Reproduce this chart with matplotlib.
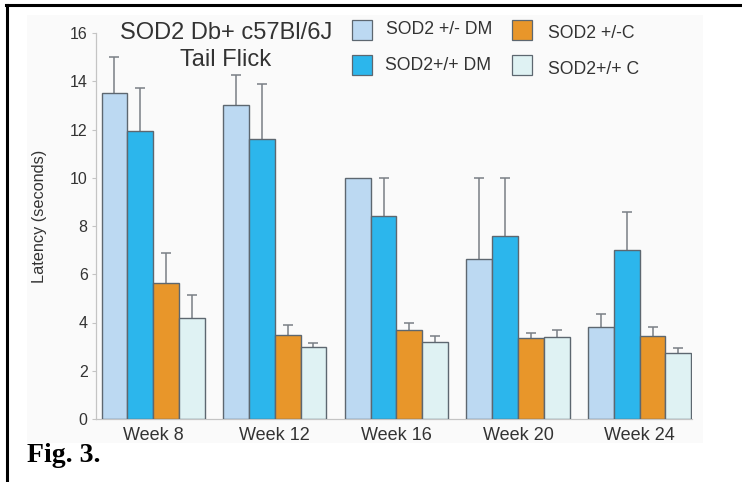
import matplotlib
matplotlib.use('Agg')
import matplotlib.pyplot as plt
from matplotlib.patches import Rectangle
from matplotlib.lines import Line2D
import numpy as np

# data (latency in seconds, error = upper SEM)
weeks = ['Week 8', 'Week 12', 'Week 16', 'Week 20', 'Week 24']
groups = ['SOD2 +/- DM', 'SOD2+/+ DM', 'SOD2 +/-C', 'SOD2+/+ C']
het_dm = [13.5, 13.0, 10.0, 6.65, 3.8]
het_dm_err = [1.5, 1.25, 0.0, 3.35, 0.55]
wt_dm = [11.95, 11.6, 8.4, 7.6, 7.0]
wt_dm_err = [1.75, 2.3, 1.6, 2.4, 1.6]
het_c = [5.65, 3.5, 3.7, 3.35, 3.45]
het_c_err = [1.25, 0.4, 0.3, 0.2, 0.35]
wt_c = [4.2, 3.0, 3.2, 3.4, 2.75]
wt_c_err = [0.95, 0.15, 0.25, 0.3, 0.2]

colors = ['#bcd9f2', '#2cb6ec', '#e8962a', '#dff2f3']
edge = '#5d6770'
txt = '#333333'
FONT = 'Liberation Sans'

fig = plt.figure(figsize=(7.42, 4.82), dpi=100)
W, H = 742.0, 482.0

def fx(px):
    return px / W

def fy(py):
    return 1 - py / H

# light panel behind the plot
fig.patches.append(Rectangle((fx(27), fy(443)), fx(703) - fx(27), fy(15) - fy(443),
                             transform=fig.transFigure, facecolor='#fafafa',
                             edgecolor='none', zorder=-5))
# black frame (top and left)
fig.add_artist(Line2D([fx(6), 1.0], [fy(5), fy(5)], color='black', lw=2.2,
                      transform=fig.transFigure))
fig.add_artist(Line2D([fx(7), fx(7)], [fy(5), 0.0], color='black', lw=2.2,
                      transform=fig.transFigure))

ax = fig.add_axes([fx(96), fy(419), fx(692) - fx(96), fy(33) - fy(419)])
ax.set_facecolor('none')
ax.set_zorder(2)

series = [(het_dm, het_dm_err), (wt_dm, wt_dm_err), (het_c, het_c_err), (wt_c, wt_c_err)]
x = np.arange(len(weeks))
width = 0.212
for i, (vals, errs) in enumerate(series):
    pos = x + (i - 1.5) * width
    ax.bar(pos, vals, width, color=colors[i], edgecolor=edge, linewidth=1.0, zorder=3)
    # symmetric bars drawn behind the columns, so only the upper half shows
    vals = np.array(vals)
    errs = np.array(errs)
    keep = errs > 0
    ax.errorbar(pos[keep], vals[keep], yerr=errs[keep], fmt='none',
                ecolor='#7a7f85', elinewidth=1.1, capsize=3.5, capthick=1.1, zorder=2)

ax.set_xlim(-0.47, 4.43)
ax.set_ylim(0, 16)
ax.set_yticks(range(0, 17, 2))
ax.set_xticks(x)
ax.set_xticklabels(weeks)
for s in ['top', 'right']:
    ax.spines[s].set_visible(False)
for s in ['left', 'bottom']:
    ax.spines[s].set_color('#c4c4c4')
    ax.spines[s].set_linewidth(0.9)
ax.tick_params(axis='y', length=3, color='#c4c4c4', pad=3, labelsize=11.5, labelcolor=txt)
ax.tick_params(axis='x', length=0, pad=6, labelsize=13, labelcolor=txt)
for lab in ax.get_xticklabels() + ax.get_yticklabels():
    lab.set_fontfamily(FONT)

fig.text(fx(40), fy(216), 'Latency (seconds)', rotation=90, ha='center', va='center',
         fontsize=11.7, color=txt, family=FONT)

fig.text(fx(226), fy(33), 'SOD2 Db+ c57Bl/6J', ha='center', va='center',
         fontsize=17, color=txt, family=FONT, zorder=5)
fig.text(fx(226), fy(60), 'Tail Flick', ha='center', va='center',
         fontsize=17, color=txt, family=FONT, zorder=5)

# legend, two columns
leg_pos = [(352, 20), (352, 55), (512, 20), (512, 55)]
text_pos = [(386, 30), (385, 66), (548, 33), (548, 70)]
for i in range(4):
    sx, sy = leg_pos[i]
    fig.patches.append(Rectangle((fx(sx), fy(sy + 20)), fx(20), 20 / H,
                                 transform=fig.transFigure, facecolor=colors[i],
                                 edgecolor=edge, linewidth=0.9, zorder=5))
    tx, ty = text_pos[i]
    fig.text(fx(tx), fy(ty), groups[i], ha='left', va='center', fontsize=12.7,
             color=txt, family=FONT, zorder=5)

fig.text(fx(27), fy(455), 'Fig. 3.', ha='left', va='center', fontsize=20,
         fontweight='bold', color='black', family='Liberation Serif')

fig.savefig('out.png', dpi=100)
